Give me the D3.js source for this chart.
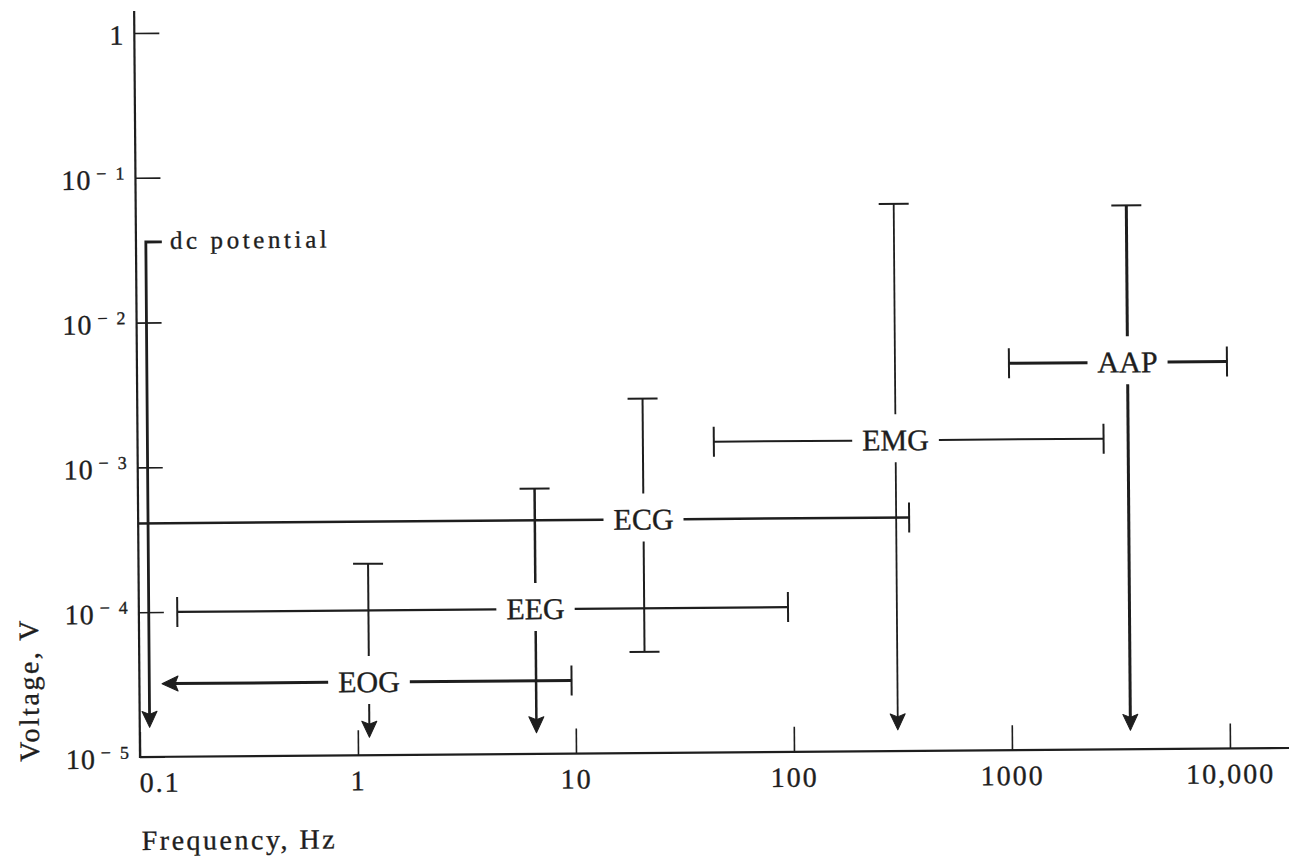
<!DOCTYPE html>
<html><head><meta charset="utf-8">
<script src="https://cdn.jsdelivr.net/npm/d3@7"></script>
<style>
html,body{margin:0;padding:0;background:#fff;}
svg{display:block;}
text{font-family:"Liberation Serif","Times New Roman",serif;fill:#1e1e1e;stroke:#1e1e1e;stroke-width:0.35px;}
</style></head><body>
<svg id="chart" width="1289" height="859"></svg>
<script>
// ---------- data ----------
const signals      = ["EOG", "EEG", "ECG", "EMG", "AAP"];
const levelVolts   = [3.2e-5, 1.0e-4, 4.1e-4, 1.4e-3, 4.7e-3];   // voltage of the frequency bar
const freqLow      = [0.127, 0.15, 0.1, 44, 1000];
const freqHigh     = [9.6, 95, 344, 2700, 10000];
const centerFreq   = [1.13, 6.6, 20.8, 300, 3500];              // frequency of the voltage bar
const voltLow      = [1.33e-5, 1.4e-5, 5.0e-5, 1.4e-5, 1.35e-5];
const voltHigh     = [2.1e-4, 6.8e-4, 2.8e-3, 0.06, 0.057];
const freqLowEnd   = ["arrow", "cap", "none", "cap", "cap"];
const voltLowEnd   = ["arrow", "arrow", "cap", "arrow", "arrow"];

const dcLabel = "dc potential";
const dcFreq = 0.111, dcVoltHigh = 0.036, dcVoltLow = 1.6e-5;

const xTicks      = [0.1, 1, 10, 100, 1000, 10000];
const xTickLabels = ["0.1", "1", "10", "100", "1000", "10,000"];
const yTicks      = [1, 1e-1, 1e-2, 1e-3, 1e-4, 1e-5];
const yTickExps   = ["", "1", "2", "3", "4", "5"];
const xTitle = "Frequency, Hz";
const yTitle = "Voltage, V";

// ---------- styles (not data) ----------
const ink = "#1e1e1e";
const hWidth = {EOG: 3, EEG: 2.2, ECG: 2.5, EMG: 2, AAP: 3};
const vWidth = {EOG: 2, EEG: 2.5, ECG: 2, EMG: 1.8, AAP: 3};

// ---------- layout ----------
const svg = d3.select("#chart");
const x = d3.scaleLog().domain([0.1, 10000]).range([140, 1230]);
const y = d3.scaleLog().domain([1e-5, 1]).range([757, 33]);

const g = svg.append("g").attr("transform", "rotate(-0.45,140,757)");

// x axis
const xAxis = d3.axisBottom(x).tickValues(xTicks)
  .tickFormat((d, i) => xTickLabels[i])
  .tickSizeInner(-25).tickSizeOuter(0).tickPadding(15);
const gx = g.append("g").attr("transform", "translate(0,757)").call(xAxis)
  .attr("font-family", null).attr("font-size", null).attr("color", ink);
gx.select(".domain").remove();
gx.selectAll(".tick line").attr("stroke-width", 1.6);
gx.selectAll(".tick text").attr("font-size", 28).attr("letter-spacing", "2px");
gx.selectAll(".tick text").filter(d => d === xTicks[0]).attr("text-anchor", "start").attr("x", -1);

// y axis
const yAxis = d3.axisLeft(y).tickValues(yTicks).tickFormat("")
  .tickSizeInner(-25).tickSizeOuter(0).tickPadding(11);
const gy = g.append("g").attr("transform", "translate(140,0)").call(yAxis)
  .attr("font-family", null).attr("font-size", null).attr("color", ink);
gy.select(".domain").remove();
gy.selectAll(".tick line").attr("stroke-width", 1.6);
gy.selectAll(".tick text").attr("dy", null).attr("y", 11).attr("font-size", 28)
  .each(function(d, i) {
    const t = d3.select(this);
    if (yTickExps[i] === "") {
      t.append("tspan").text("1");
    } else {
      t.append("tspan").text("10").attr("letter-spacing", "1px");
      t.append("tspan").text("\u2212\u2002" + yTickExps[i]).attr("font-size", 18)
        .attr("dx", 5).attr("dy", -10);
    }
  });

// axis lines
g.append("line").attr("x1", x(0.1) - 1).attr("x2", 1300).attr("y1", 757).attr("y2", 757)
  .attr("stroke", ink).attr("stroke-width", 2.2);
g.append("line").attr("x1", x(0.1)).attr("x2", x(0.1)).attr("y1", 11).attr("y2", 758)
  .attr("stroke", ink).attr("stroke-width", 2.2);

// titles
g.append("text").attr("x", 141).attr("y", 850).attr("font-size", 28)
  .attr("letter-spacing", "2.5px").text(xTitle);
g.append("text").attr("transform", "translate(39,689) rotate(-90)")
  .attr("text-anchor", "middle").attr("font-size", 28)
  .attr("letter-spacing", "2.5px").text(yTitle);

// helpers
function seg(x1, y1, x2, y2, w) {
  g.append("line").attr("x1", x1).attr("y1", y1).attr("x2", x2).attr("y2", y2)
    .attr("stroke", ink).attr("stroke-width", w);
}
function arrowDown(cx, tip) {
  g.append("path").attr("d", `M${cx},${tip} L${cx - 7.5},${tip - 16} L${cx},${tip - 13} L${cx + 7.5},${tip - 16} Z`)
    .attr("fill", ink).attr("stroke", ink).attr("stroke-width", 1).attr("stroke-linejoin", "round");
}
function arrowLeft(tip, cy) {
  g.append("path").attr("d", `M${tip},${cy} L${tip + 16},${cy - 7.5} L${tip + 13},${cy} L${tip + 16},${cy + 7.5} Z`)
    .attr("fill", ink).attr("stroke", ink).attr("stroke-width", 1).attr("stroke-linejoin", "round");
}
const capHalf = 15;

// signals
signals.forEach((name, i) => {
  const cx = x(centerFreq[i]);
  const cy = y(levelVolts[i]);
  const label = g.append("text").attr("x", cx).attr("y", cy + 10)
    .attr("text-anchor", "middle").attr("font-size", 30).text(name);
  const hw = label.node().getComputedTextLength() / 2 + 10;

  // frequency bar
  const xl = x(freqLow[i]), xr = x(freqHigh[i]);
  const lw = hWidth[name];
  const leftStart = freqLowEnd[i] === "arrow" ? xl + 10 : xl;
  seg(leftStart, cy, cx - hw, cy, lw);
  seg(cx + hw, cy, xr, cy, lw);
  if (freqLowEnd[i] === "cap") seg(xl, cy - capHalf, xl, cy + capHalf, 2);
  if (freqLowEnd[i] === "arrow") arrowLeft(xl, cy);
  seg(xr, cy - capHalf, xr, cy + capHalf, 2);

  // voltage bar
  const yt = y(voltHigh[i]), yb = y(voltLow[i]);
  const vw = vWidth[name];
  const botEnd = voltLowEnd[i] === "arrow" ? yb - 10 : yb;
  seg(cx, yt, cx, cy - 26, vw);
  seg(cx, cy + 22, cx, botEnd, vw);
  seg(cx - capHalf, yt, cx + capHalf, yt, 2);
  if (voltLowEnd[i] === "cap") seg(cx - capHalf, yb, cx + capHalf, yb, 2);
  if (voltLowEnd[i] === "arrow") arrowDown(cx, yb);
});

// dc potential
const dX = x(dcFreq), dTop = y(dcVoltHigh), dLow = y(dcVoltLow);
g.append("path").attr("d", `M${dX + 16},${dTop} H${dX} V${dLow - 10}`)
  .attr("fill", "none").attr("stroke", ink).attr("stroke-width", 2.8);
arrowDown(dX, dLow);
g.append("text").attr("x", dX + 24).attr("y", dTop + 7).attr("font-size", 25)
  .attr("letter-spacing", "3.6px").text(dcLabel);
</script>
</body></html>
